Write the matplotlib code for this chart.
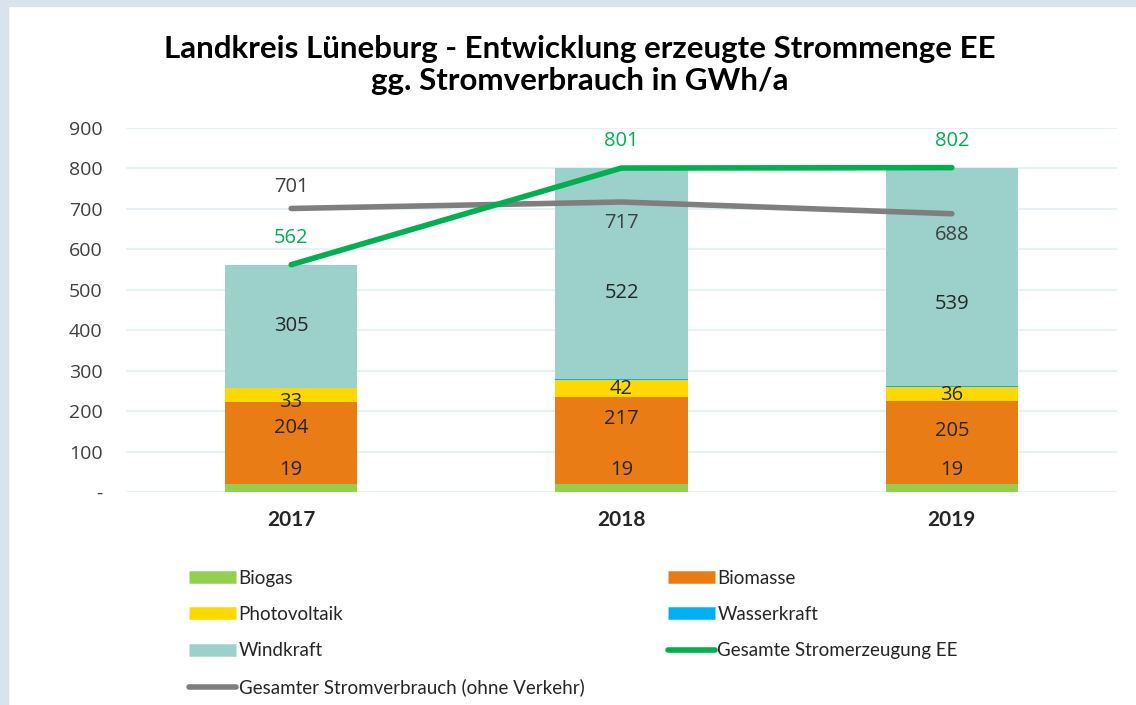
import numpy as np
import matplotlib
matplotlib.use("Agg")
import matplotlib.pyplot as plt
from matplotlib.patches import Rectangle
from matplotlib.lines import Line2D

# Daten (GWh/a)
jahre = ["2017", "2018", "2019"]
biogas = [19, 19, 19]
biomasse = [204, 217, 205]
photovoltaik = [33, 42, 36]
wasserkraft = [1, 1, 3]
windkraft = [305, 522, 539]
gesamt_ee = [562, 801, 802]
verbrauch = [701, 717, 688]

# Position der Beschriftungen (Datenwerte, wie im Original verschoben)
lab_biogas = [55, 55, 55]
lab_biomasse = [158, 180, 151]
lab_pv = [222, 255, 240]
lab_wind = [410, 492, 465]

farben = {
    "Biogas": "#92d050",
    "Biomasse": "#e97c14",
    "Photovoltaik": "#ffd800",
    "Wasserkraft": "#00b0f0",
    "Windkraft": "#9bd0cb",
}
gruen = "#00b050"
grau = "#7f7f7f"
zahl_font = ["Open Sans", "Lato", "DejaVu Sans"]

plt.rcParams["font.family"] = ["Lato", "DejaVu Sans"]

fig = plt.figure(figsize=(11.36, 7.05), dpi=100)
# hellblauer Rahmen oben / links
fig.patches.append(Rectangle((0, 1 - 6 / 705), 1, 6 / 705, transform=fig.transFigure,
                             color="#d9e3ee", zorder=0))
fig.patches.append(Rectangle((0, 0), 8 / 1136, 1, transform=fig.transFigure,
                             color="#d9e3ee", zorder=0))

ax = fig.add_axes([126 / 1136, 1 - 492 / 705, 991 / 1136, 364 / 705])
x = np.arange(len(jahre))
breite = 0.4

unten = np.zeros(len(jahre))
for name, werte in [("Biogas", biogas), ("Biomasse", biomasse), ("Photovoltaik", photovoltaik),
                    ("Wasserkraft", wasserkraft), ("Windkraft", windkraft)]:
    ax.bar(x, werte, breite, bottom=unten, color=farben[name], zorder=2)
    unten += np.array(werte)

for werte, pos in [(biogas, lab_biogas), (biomasse, lab_biomasse),
                   (photovoltaik, lab_pv), (windkraft, lab_wind)]:
    for i, (v, p) in enumerate(zip(werte, pos)):
        ax.text(x[i], p, str(v), ha="center", va="center", fontsize=14.5,
                color="#262626", family=zahl_font, zorder=4)

ax.plot(x, verbrauch, color=grau, lw=4, solid_capstyle="round", zorder=3)
ax.plot(x, gesamt_ee, color=gruen, lw=4, solid_capstyle="round", zorder=3)

# Linienbeschriftungen
for i, v in enumerate(gesamt_ee):
    ax.annotate(str(v), (x[i], v), xytext=(0, 12), textcoords="offset points",
                ha="center", va="bottom", color=gruen, fontsize=14.5, fontweight="medium",
                family=zahl_font, zorder=4)
ax.annotate(str(verbrauch[0]), (x[0], verbrauch[0]), xytext=(0, 8), textcoords="offset points",
            ha="center", va="bottom", color="#404040", fontsize=14.5, fontweight="medium",
            family=zahl_font, zorder=4)
for i in [1, 2]:
    ax.annotate(str(verbrauch[i]), (x[i], verbrauch[i]), xytext=(0, -8), textcoords="offset points",
                ha="center", va="top", color="#404040", fontsize=14.5, fontweight="medium",
                family=zahl_font, zorder=4)

ax.set_xlim(-0.5, 2.5)
ax.set_ylim(0, 900)
ax.set_yticks(range(0, 901, 100))
ax.set_yticklabels(["-"] + [str(v) for v in range(100, 901, 100)],
                   family=zahl_font, fontsize=14, color="#404040")
ax.set_xticks(x)
ax.set_xticklabels(jahre, fontsize=15, fontweight="bold", color="#262626")
ax.tick_params(axis="y", length=0, pad=17)
ax.tick_params(axis="x", length=0, pad=13)
ax.grid(axis="y", color="#e6f2f3", lw=1.5, zorder=0)
for s in ax.spines.values():
    s.set_visible(False)

fig.text(580 / 1136, 1 - 65 / 705,
         "Landkreis Lüneburg - Entwicklung erzeugte Strommenge EE\ngg. Stromverbrauch in GWh/a",
         ha="center", va="center", fontsize=22.5, fontweight="bold", linespacing=1.2)

# Legende
handles = [
    Line2D([0], [0], color=farben["Biogas"], lw=9, solid_capstyle="butt"),
    Line2D([0], [0], color=farben["Photovoltaik"], lw=9, solid_capstyle="butt"),
    Line2D([0], [0], color=farben["Windkraft"], lw=9, solid_capstyle="butt"),
    Line2D([0], [0], color=grau, lw=4, solid_capstyle="round"),
    Line2D([0], [0], color=farben["Biomasse"], lw=9, solid_capstyle="butt"),
    Line2D([0], [0], color=farben["Wasserkraft"], lw=9, solid_capstyle="butt"),
    Line2D([0], [0], color=gruen, lw=4, solid_capstyle="round"),
]
labels = ["Biogas", "Photovoltaik", "Windkraft", "Gesamter Stromverbrauch (ohne Verkehr)",
          "Biomasse", "Wasserkraft", "Gesamte Stromerzeugung EE"]
leg = fig.legend(handles, labels, ncol=2, loc="upper left",
                 bbox_to_anchor=(172 / 1136, 1 - 553 / 705), frameon=False,
                 handlelength=2.5, handletextpad=0.15, columnspacing=4.45,
                 labelspacing=1.02, prop={"family": ["Lato", "DejaVu Sans"], "size": 13.5})
for t in leg.get_texts():
    t.set_color("#262626")

fig.savefig("out.png", dpi=100, facecolor="white")
